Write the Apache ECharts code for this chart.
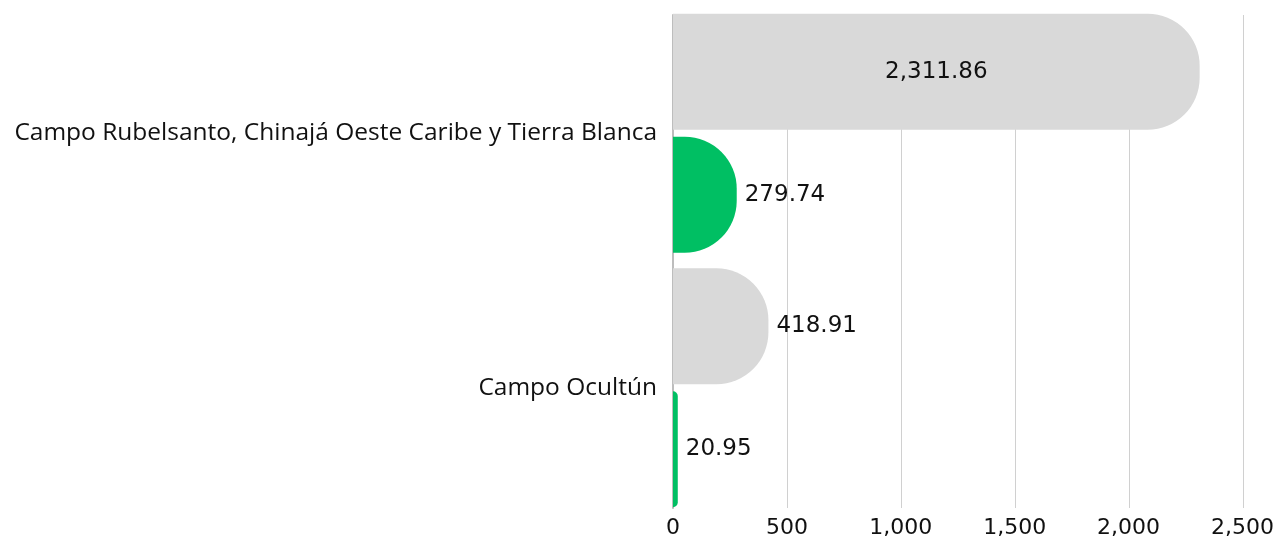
<!DOCTYPE html>
<html>
<head>
<meta charset="utf-8">
<script src="https://cdn.jsdelivr.net/npm/echarts@6/dist/echarts.min.js"></script>
<style>
  html, body { margin: 0; padding: 0; background: #fff; }
  #chart { width: 1277px; height: 539px; }
</style>
</head>
<body>
<div id="chart"></div>
<script>
// categories, top to bottom
var campos = ['Campo Rubelsanto, Chinajá Oeste Caribe y Tierra Blanca', 'Campo Ocultún'];
var serieGris = [2311.86, 418.91];
var serieVerde = [279.74, 20.95];
var ticks = [0, 500, 1000, 1500, 2000, 2500];

function fmt(v, dec) {
    return v.toLocaleString('en-US', { minimumFractionDigits: dec, maximumFractionDigits: dec });
}

// big bars get their label inside
function toItems(arr) {
    return arr.map(function(v) {
        var it = { value: v };
        if (v > 1000) {
            it.label = { position: 'inside' };
        }
        return it;
    });
}

var numFont = 'DejaVu Sans';
var valLabel = {
    show: true,
    position: 'right',
    distance: 8,
    color: '#111',
    fontFamily: numFont,
    fontSize: 23,
    formatter: function(p) { return fmt(p.value, 2); }
};

var myChart = echarts.init(document.getElementById('chart'));
var option = {
    animation: false,
    grid: [
        { left: 673, right: 34, top: 6, bottom: 19 },   // bars
        { left: 673, right: 34, top: 15, bottom: 31 }   // gridlines only
    ],
    xAxis: [{
        type: 'value',
        gridIndex: 0,
        min: ticks[0],
        max: ticks[ticks.length - 1],
        interval: 500,
        axisLine: { show: false },
        axisTick: { show: false },
        splitLine: { show: false },
        axisLabel: {
            color: '#111',
            fontFamily: numFont,
            fontSize: 22,
            margin: 2,
            formatter: function(v) { return fmt(v, 0); }
        }
    }, {
        type: 'value',
        gridIndex: 1,
        min: ticks[0],
        max: ticks[ticks.length - 1],
        interval: 500,
        axisLine: { show: false },
        axisTick: { show: false },
        axisLabel: { show: false },
        splitLine: { lineStyle: { color: '#d0d0d0', width: 1 } }
    }],
    yAxis: [{
        type: 'category',
        gridIndex: 0,
        data: campos,
        inverse: true,
        axisLine: { show: false },
        axisTick: { show: false },
        axisLabel: {
            color: '#111',
            fontFamily: 'Open Sans',
            fontSize: 24.5,
            margin: 16
        }
    }, {
        type: 'category',
        gridIndex: 1,
        data: campos,
        inverse: true,
        axisLine: { lineStyle: { color: '#bdbdbd', width: 2 } },
        axisTick: { show: false },
        axisLabel: { show: false }
    }],
    series: [{
        name: 'gris',
        type: 'bar',
        xAxisIndex: 0,
        yAxisIndex: 0,
        data: toItems(serieGris),
        barWidth: 116,
        barGap: '6%',
        itemStyle: { color: '#d9d9d9', borderRadius: [0, 52, 52, 0] },
        label: valLabel
    }, {
        name: 'verde',
        type: 'bar',
        xAxisIndex: 0,
        yAxisIndex: 0,
        data: toItems(serieVerde),
        barWidth: 116,
        barGap: '6%',
        itemStyle: { color: '#00bf63', borderRadius: [0, 52, 52, 0] },
        label: valLabel
    }]
};
myChart.setOption(option);
</script>
</body>
</html>
